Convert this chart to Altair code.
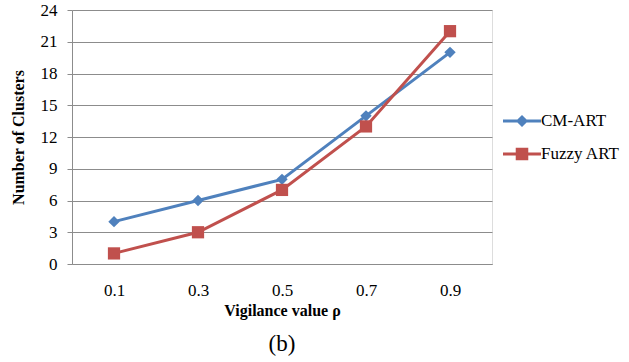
import altair as alt
import pandas as pd

rho = ["0.1", "0.3", "0.5", "0.7", "0.9"]
cm_art = [4, 6, 8, 14, 20]
fuzzy_art = [1, 3, 7, 13, 22]
series = ["CM-ART", "Fuzzy ART"]
colors = ["#4F81BD", "#C0504D"]

df = pd.DataFrame({
    "rho": rho * 2,
    "clusters": cm_art + fuzzy_art,
    "series": [series[0]] * 5 + [series[1]] * 5,
})

FONT = "Liberation Serif"
GRID = "#8C8C8C"

x = alt.X("rho:O", sort=rho, scale=alt.Scale(type="point", padding=0.5),
          axis=alt.Axis(title="Vigilance value ρ", labelAngle=0, ticks=False,
                        domainColor=GRID, labelFont=FONT, labelFontSize=17,
                        labelColor="black", labelPadding=18,
                        titleFont=FONT, titleFontSize=16, titleFontWeight="bold",
                        titleColor="black", titlePadding=4))
y = alt.Y("clusters:Q", scale=alt.Scale(domain=[0, 24], nice=False),
          axis=alt.Axis(title="Number of Clusters", values=list(range(0, 25, 3)),
                        grid=True, gridColor=GRID, domainColor=GRID, tickColor=GRID,
                        tickSize=5, labelFont=FONT, labelFontSize=17, labelColor="black",
                        labelPadding=10, titleFont=FONT, titleFontSize=16,
                        titleFontWeight="bold", titleColor="black", titlePadding=14))

line_path_cm = "M-1,-0.08H1V0.08H-1Z M0,-0.32L0.32,0L0,0.32L-0.32,0Z"
line_path_fz = "M-1,-0.08H1V0.08H-1Z M-0.33,-0.33H0.33V0.33H-0.33Z"

color_scale = alt.Scale(domain=series, range=colors)
legend = alt.Legend(title=None, orient="none", legendX=431, legendY=92,
                    symbolSize=1444, symbolOpacity=1, symbolStrokeWidth=0,
                    labelFont=FONT, labelFontSize=17,
                    labelColor="black", rowPadding=6, labelOffset=0)

base = alt.Chart(df)
legend_layer = base.transform_filter("false").mark_point(
    filled=True, size=1444, opacity=1, strokeWidth=0).encode(
    x=x, y=y,
    color=alt.Color("series:N", scale=color_scale, legend=legend),
    shape=alt.Shape("series:N", scale=alt.Scale(domain=series, range=[line_path_cm, line_path_fz]),
                    legend=legend))
lines = base.mark_line(strokeWidth=3).encode(
    x=x, y=y, color=alt.Color("series:N", scale=color_scale, legend=None))
cm_pts = base.transform_filter(alt.datum.series == "CM-ART").mark_point(
    shape="diamond", filled=True, size=130, opacity=1).encode(
    x=x, y=y, color=alt.Color("series:N", scale=color_scale, legend=None))
fz_pts = base.transform_filter(alt.datum.series == "Fuzzy ART").mark_point(
    shape="square", filled=True, size=150, opacity=1).encode(
    x=x, y=y, color=alt.Color("series:N", scale=color_scale, legend=None))

chart = alt.layer(legend_layer, lines, cm_pts, fz_pts).resolve_legend(
    color="independent", shape="independent"
).properties(
    width=420, height=254,
    title=alt.TitleParams(text="(b)", orient="bottom", anchor="middle", font=FONT,
                          fontSize=23, fontWeight="normal", color="black", offset=15),
    autosize=alt.AutoSizeParams(type="none"),
    padding={"left": 72, "top": 10, "right": 137, "bottom": 98},
).configure_view(stroke=None).configure(background="white")

chart.save("out.html", embed_options={"renderer": "svg", "actions": False})
